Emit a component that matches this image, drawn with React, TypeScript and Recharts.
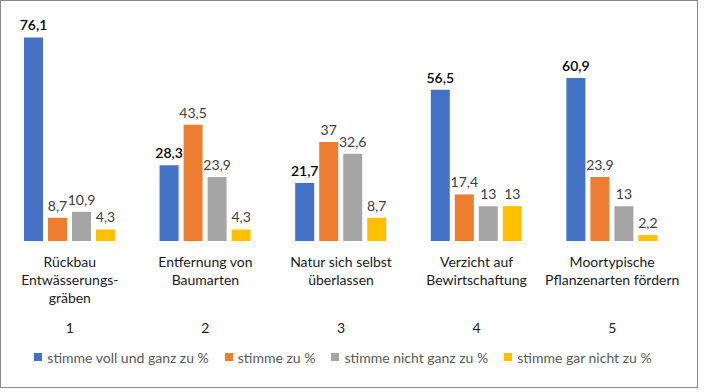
import React from "react";
import { BarChart, Bar, XAxis, YAxis, LabelList, Legend } from "recharts";

const categories = [
  "Rückbau\nEntwässerungs-\ngräben",
  "Entfernung von\nBaumarten",
  "Natur sich selbst\nüberlassen",
  "Verzicht auf\nBewirtschaftung",
  "Moortypische\nPflanzenarten fördern",
];
const categoryNumbers = ["1", "2", "3", "4", "5"];
const seriesNames = [
  "stimme voll und ganz zu %",
  "stimme zu %",
  "stimme nicht ganz zu %",
  "stimme gar nicht zu %",
];
const vollUndGanz = [76.1, 28.3, 21.7, 56.5, 60.9];
const stimmeZu = [8.7, 43.5, 37, 17.4, 23.9];
const nichtGanz = [10.9, 23.9, 32.6, 13, 13];
const garNicht = [4.3, 4.3, 8.7, 13, 2.2];

const colors = ["#4472C4", "#ED7D31", "#A5A5A5", "#FFC000"];
const keys = ["s0", "s1", "s2", "s3"];
const FONT = "Lato, 'Open Sans', sans-serif";

const data = categories.map((c, i) => ({
  name: c,
  num: categoryNumbers[i],
  s0: vollUndGanz[i],
  s1: stimmeZu[i],
  s2: nichtGanz[i],
  s3: garNicht[i],
}));

const fmt = (v: any) => String(v).replace(".", ",");

const CategoryTick = (props: any) => {
  const { x, y, payload, index } = props;
  const lines = String(payload.value).split("\n");
  return (
    <g>
      {lines.map((l: string, k: number) => (
        <text
          key={k}
          x={x}
          y={y + 26 + k * 18}
          textAnchor="middle"
          fontFamily={FONT}
          fontSize={14}
          fill="#1a1a1a"
        >
          {l}
        </text>
      ))}
      <text
        x={x}
        y={y + 92}
        textAnchor="middle"
        fontFamily={FONT}
        fontSize={14}
        fill="#1a1a1a"
      >
        {categoryNumbers[index]}
      </text>
    </g>
  );
};

const LegendContent = () => (
  <div
    style={{
      display: "flex",
      justifyContent: "center",
      alignItems: "center",
      height: 20,
      fontFamily: FONT,
      fontSize: 14,
      color: "#595959",
      gap: 16,
      paddingLeft: 4,
    }}
  >
    {seriesNames.map((n, i) => (
      <div key={n} style={{ display: "flex", alignItems: "center" }}>
        <span
          style={{
            display: "inline-block",
            width: 8,
            height: 8,
            background: colors[i],
            marginRight: 5,
          }}
        />
        <span>{n}</span>
      </div>
    ))}
  </div>
);

export default function App() {
  return (
    <div style={{ position: "absolute", left: 0, top: 0, width: 704, height: 392, background: "#fff" }}>
      <div
        style={{
          position: "absolute",
          left: 0,
          top: 0,
          width: 696,
          height: 386,
          border: "1px solid #8a8a8a",
        }}
      />
      <div style={{ position: "absolute", left: 0, top: 0 }}>
        <BarChart
          width={704}
          height={392}
          data={data}
          margin={{ top: 27, right: 24, bottom: 25, left: 2 }}
          barSize={19}
          barGap={5}
        >
          <XAxis
            dataKey="name"
            axisLine={false}
            tickLine={false}
            tickSize={0}
            tickMargin={0}
            height={106}
            interval={0}
            tick={<CategoryTick />}
          />
          <YAxis hide domain={[0, 80]} />
          <Legend verticalAlign="bottom" height={20} content={<LegendContent />} />
          {keys.map((k, i) => (
            <Bar key={k} dataKey={k} name={seriesNames[i]} fill={colors[i]} isAnimationActive={false}>
              <LabelList
                dataKey={k}
                position="top"
                offset={7}
                formatter={fmt}
                fontFamily={FONT}
                fontSize={14}
                fill={i === 0 ? "#000" : "#404040"}
                fontWeight={i === 0 ? 600 : 400}
              />
            </Bar>
          ))}
        </BarChart>
      </div>
    </div>
  );
}
